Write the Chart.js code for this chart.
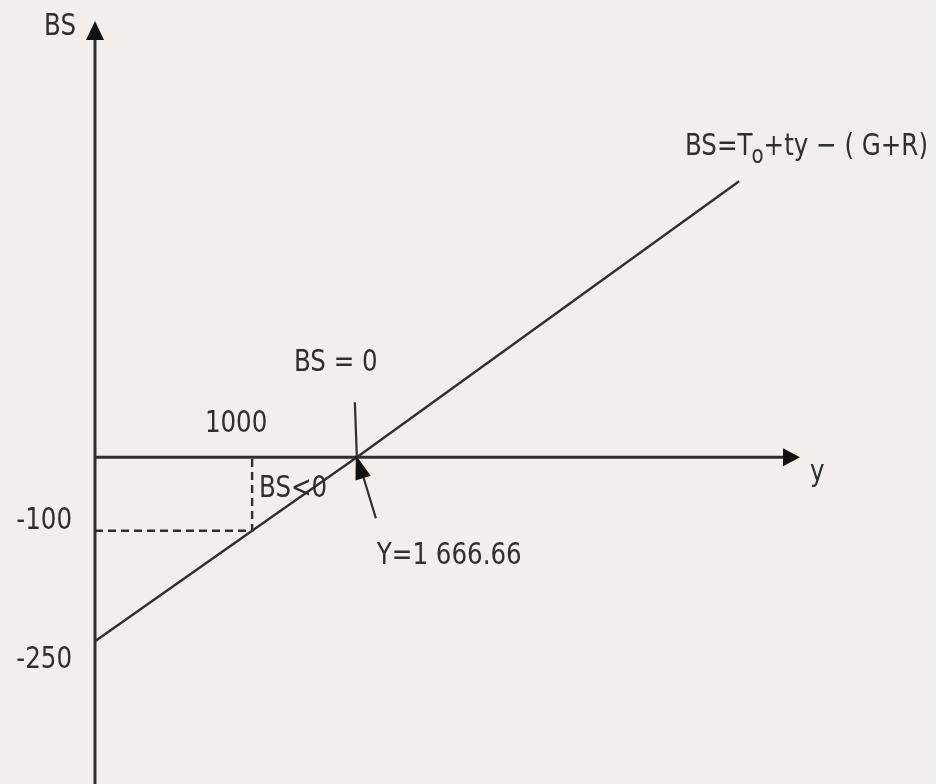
<!DOCTYPE html>
<html>
<head>
<meta charset="utf-8">
<script src="https://cdn.jsdelivr.net/npm/chart.js@4/dist/chart.umd.min.js"></script>
<style>
  html, body { margin: 0; padding: 0; background: #f1eeeb; }
  #wrap { width: 936px; height: 784px; }
</style>
</head>
<body>
<div id="wrap"><canvas id="c" width="936" height="784"></canvas></div>
<script>
// ---- data ----
const incomeValues = [0, 1000, 1666.66, 4100];      // y (national income)
const balanceValues = [-250, -100, 0, 375];          // BS (budget balance)
const guideIncome = [0, 1000, 1000];                 // dashed guide at y = 1000
const guideBalance = [-100, -100, 0];
const xTickValues = [1000];
const yTickValues = [-100, -250];
const breakEvenIncome = 1666.66;
const breakEvenBalance = 0;
const lineLabel = ['BS=T', 'o', '+ty \u2212 ( G+R)'];
const breakEvenLabel = 'BS = 0';
const breakEvenValueLabel = 'Y=1 666.66';
const deficitLabel = 'BS<0';
const yAxisTitle = 'BS';
const xAxisTitle = 'y';

const INK = '#2f2f2f';
const FONT = '"Liberation Sans Narrow", "DejaVu Sans Condensed", "Liberation Sans", sans-serif';
const SQUEEZE = 0.88;

function arrowHead(ctx, tipX, tipY, fromX, fromY, len, half) {
  const a = Math.atan2(tipY - fromY, tipX - fromX);
  const bx = tipX - Math.cos(a) * len, by = tipY - Math.sin(a) * len;
  ctx.beginPath();
  ctx.moveTo(tipX, tipY);
  ctx.lineTo(bx + Math.sin(a) * half, by - Math.cos(a) * half);
  ctx.lineTo(bx - Math.sin(a) * half, by + Math.cos(a) * half);
  ctx.closePath();
  ctx.fill();
}

// draw text slightly condensed; align: 'left' | 'center' | 'right'
function txt(ctx, s, x, y, align, size) {
  ctx.save();
  ctx.font = (size || 31) + 'px ' + FONT;
  ctx.textAlign = 'left';
  ctx.textBaseline = 'middle';
  const w = ctx.measureText(s).width * SQUEEZE;
  let left = x;
  if (align === 'center') left = x - w / 2;
  else if (align === 'right') left = x - w;
  ctx.translate(left, y);
  ctx.scale(SQUEEZE, 1);
  ctx.fillText(s, 0, 0);
  ctx.restore();
  return w;
}
function width(ctx, s, size) {
  ctx.save();
  ctx.font = (size || 31) + 'px ' + FONT;
  const w = ctx.measureText(s).width * SQUEEZE;
  ctx.restore();
  return w;
}

const decor = {
  id: 'decor',
  beforeDraw(chart) {
    const { ctx } = chart;
    ctx.save();
    ctx.fillStyle = '#f1eeeb';
    ctx.fillRect(0, 0, chart.width, chart.height);
    ctx.restore();
  },
  beforeDatasetsDraw(chart) {
    const { ctx, chartArea: ca, scales: { x, y } } = chart;
    const x0 = x.getPixelForValue(0), y0 = y.getPixelForValue(0);
    ctx.save();
    ctx.strokeStyle = INK; ctx.fillStyle = '#111';
    ctx.lineWidth = 3;
    // vertical axis with arrow
    ctx.beginPath(); ctx.moveTo(x0, chart.height); ctx.lineTo(x0, ca.top + 14); ctx.stroke();
    arrowHead(ctx, x0, ca.top - 2, x0, ca.top + 20, 19, 9);
    // horizontal axis with arrow
    const xEnd = x.getPixelForValue(x.max);
    ctx.beginPath(); ctx.moveTo(x0, y0); ctx.lineTo(xEnd - 14, y0); ctx.stroke();
    arrowHead(ctx, xEnd - 2, y0, xEnd - 30, y0, 17, 9);
    ctx.restore();
  },
  afterDatasetsDraw(chart) {
    const { ctx, scales: { x, y } } = chart;
    const x0 = x.getPixelForValue(0), y0 = y.getPixelForValue(0);
    ctx.save();
    ctx.fillStyle = INK; ctx.strokeStyle = INK;

    // axis titles
    txt(ctx, yAxisTitle, x0 - 19, 27, 'right');
    txt(ctx, xAxisTitle, x.getPixelForValue(x.max) + 8, y0 + 16, 'left');

    // tick labels
    xTickValues.forEach(v => txt(ctx, String(v), x.getPixelForValue(v) - 16, y0 - 33, 'center'));
    yTickValues.forEach((v, i) => txt(ctx, String(v), x0 - 23, y.getPixelForValue(v) + (i === 0 ? -10 : 19), 'right'));

    // break-even point annotations
    const px = x.getPixelForValue(breakEvenIncome), py = y.getPixelForValue(breakEvenBalance);
    txt(ctx, breakEvenLabel, px - 21, py - 94, 'center');
    ctx.lineWidth = 2.2;
    ctx.beginPath(); ctx.moveTo(px - 2, py - 55); ctx.lineTo(px, py); ctx.stroke();
    ctx.beginPath(); ctx.moveTo(px + 19, py + 61); ctx.lineTo(px + 6, py + 18); ctx.stroke();
    ctx.fillStyle = '#111';
    arrowHead(ctx, px - 1, py - 2, px + 19, py + 61, 24, 8);
    ctx.fillStyle = INK;
    txt(ctx, breakEvenValueLabel, px + 20, py + 99, 'left');

    // deficit region label
    txt(ctx, deficitLabel, x.getPixelForValue(guideIncome[1]) + 7, y0 + 32, 'left');

    // line equation label
    const rx = chart.width - 8, ly = 147;
    const w1 = width(ctx, lineLabel[0]);
    const w2 = width(ctx, lineLabel[1], 25);
    const w3 = width(ctx, lineLabel[2]);
    const start = rx - (w1 + w2 + w3 - 1);
    txt(ctx, lineLabel[0], start, ly, 'left');
    txt(ctx, lineLabel[1], start + w1 - 1, ly + 9, 'left', 25);
    txt(ctx, lineLabel[2], start + w1 + w2 - 1, ly, 'left');
    ctx.restore();
  }
};

new Chart(document.getElementById('c'), {
  type: 'line',
  data: {
    datasets: [
      {
        label: 'BS',
        data: incomeValues.map((v, i) => ({ x: v, y: balanceValues[i] })),
        borderColor: INK, borderWidth: 2.4, pointRadius: 0, tension: 0, fill: false
      },
      {
        label: 'guide',
        data: guideIncome.map((v, i) => ({ x: v, y: guideBalance[i] })),
        borderColor: INK, borderWidth: 2.4, borderDash: [8, 5], pointRadius: 0, tension: 0, fill: false
      }
    ]
  },
  options: {
    responsive: false,
    animation: false,
    devicePixelRatio: 1,
    layout: { padding: { left: 95, right: 134, top: 23, bottom: 0 } },
    plugins: { legend: { display: false }, tooltip: { enabled: false } },
    scales: {
      x: { type: 'linear', min: 0, max: 4500, display: false },
      y: { type: 'linear', min: -444, max: 590, display: false }
    }
  },
  plugins: [decor]
});
</script>
</body>
</html>
